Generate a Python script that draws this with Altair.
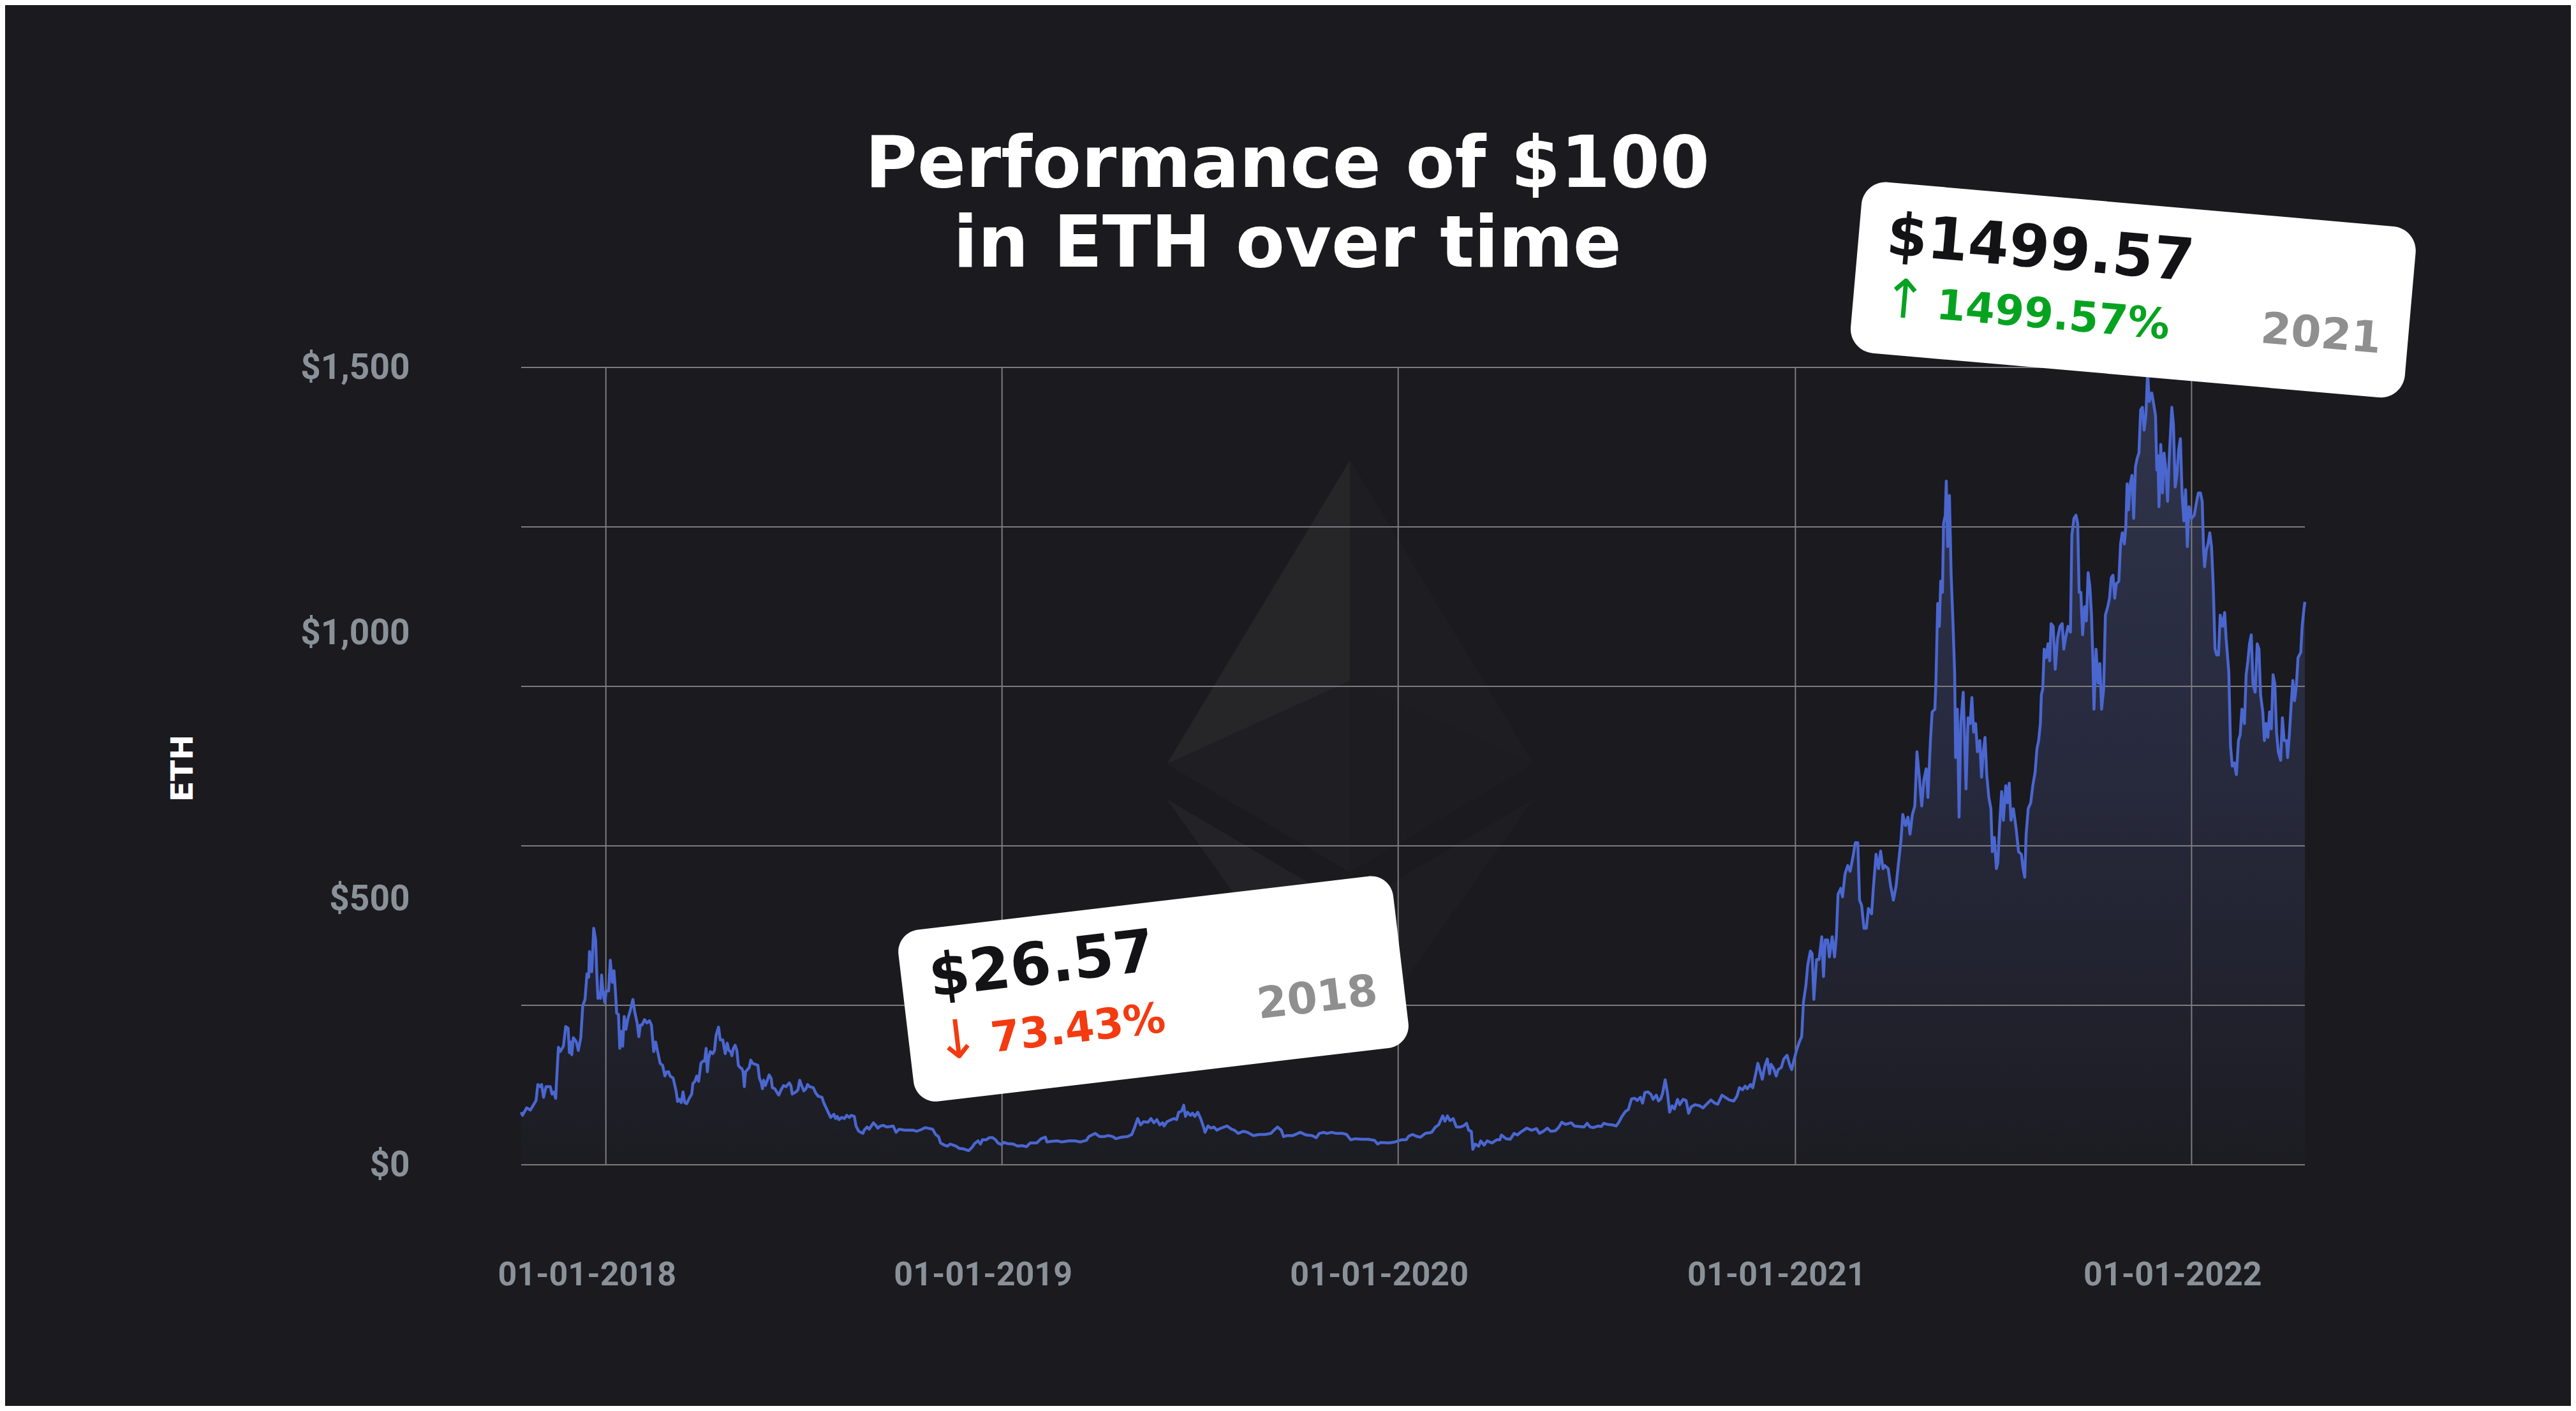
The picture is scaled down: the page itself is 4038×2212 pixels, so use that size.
import altair as alt
import pandas as pd

# ---------------------------------------------------------------- data
START_DATE = "2017-10-15"  # first day of the series

# (days since START_DATE, value in USD of $100 invested in ETH)
oct2017_to_sep2018 = [
    (0, 99), (1.2, 93), (5, 107), (8.5, 103), (12, 115), (13.7, 121), (15.3, 151), (17.6, 147),
    (18.8, 151), (20.6, 127), (22.9, 147), (26.8, 147), (28.4, 133), (30.2, 137), (31.8, 125),
    (32.5, 155), (34.3, 221), (35.9, 213), (38.9, 223), (41, 260), (43.2, 257), (44.4, 211),
    (45.7, 231), (46.6, 207), (48, 239), (49.6, 235), (50.8, 231), (52.6, 215), (54.9, 239),
    (56.7, 299), (58.8, 311), (60.6, 359), (62.2, 353), (62.9, 401), (65, 363), (66.8, 445),
    (68.6, 423), (69.5, 367), (70.7, 313), (72, 323), (73, 313), (74.1, 357), (75.5, 323),
    (77.1, 305), (78.2, 327), (80.5, 327), (82.1, 385), (83.9, 343), (85.5, 365), (86.9, 323),
    (88, 285), (89.6, 283), (90.8, 219), (92.4, 251), (93.5, 223), (94.9, 279), (96.5, 255),
    (98.3, 275), (100.6, 291), (102.9, 311), (104.5, 289), (106.8, 267), (108.4, 241),
    (109.8, 263), (111.4, 263), (113.6, 273), (115.9, 267), (118.2, 271), (120, 263),
    (122.1, 213), (123.9, 231), (125.5, 215), (128, 191), (130.3, 187), (132.4, 167),
    (134.2, 175), (135.8, 175), (137.2, 167), (140, 163), (142.7, 139), (144.1, 119),
    (145.7, 123), (147.5, 117), (149.1, 137), (150.7, 117), (152.5, 115), (154.8, 125),
    (157.1, 133), (158.2, 153), (160.1, 157), (161.7, 167), (163.5, 157), (165.6, 191),
    (167.4, 195), (169, 195), (170.4, 219), (171.5, 175), (172.6, 199), (174.2, 213),
    (176.5, 209), (178.1, 215), (179.5, 243), (181.8, 259), (183.4, 235), (185.7, 235),
    (188, 209), (189.8, 229), (191.4, 215), (193, 213), (194.1, 205), (195.5, 219),
    (197.1, 225), (198.7, 215), (200.1, 187), (201.7, 183), (203.3, 181), (204.4, 175),
    (205.6, 147), (206.7, 175), (208.5, 179), (210.1, 183), (211.5, 197), (213.1, 191),
    (215.8, 189), (218.1, 187), (219.5, 163), (221.1, 155), (222.3, 143), (223.4, 159),
    (225, 149), (226.8, 159), (228.4, 169), (230.3, 163), (231.4, 145), (233.7, 143),
    (236, 135), (237.3, 131), (239.4, 141), (241.7, 149), (244, 147), (247, 154), (248.5, 149),
    (249.7, 133), (253.1, 137), (255, 141), (256.6, 159), (258.4, 149), (260.4, 139),
    (262.3, 143), (263.9, 151), (265.7, 147), (269.1, 145), (271.4, 135), (273.7, 129),
    (277.1, 127), (278.7, 117), (281, 107), (282.8, 99), (285.1, 89), (288.1, 95), (289.7, 87),
    (291.3, 91), (292.7, 85), (295.4, 89), (297.7, 87), (300, 93), (302.3, 89), (304.1, 93),
    (306.9, 91), (308.5, 73), (311, 63), (314.9, 59), (316, 65), (318.7, 71), (320.6, 67),
    (324.5, 79), (326.3, 75), (328.6, 69), (330.9, 73), (333.8, 74), (336.6, 71), (340, 72),
]

sep2018_to_oct2019 = [
    (342.7, 73), (345.4, 61), (348.1, 67), (353.5, 65), (361.5, 65), (364.3, 63), (368.3, 66),
    (372.3, 70), (376.4, 68), (379.1, 67), (381.8, 57), (384.5, 53), (386.4, 41), (389.9, 37),
    (392.6, 35), (395.3, 39), (398, 37), (400.7, 35), (403.4, 31), (407.4, 30), (412.3, 26.6),
    (415.5, 33), (417.7, 40), (420.9, 45), (423.1, 39), (425, 47), (428.5, 47), (431.2, 51),
    (434.4, 51), (437.1, 47), (439.3, 41), (442.5, 38), (444.7, 42), (447.9, 40), (453.3, 39),
    (457.4, 35), (461.4, 36), (465.5, 34), (469, 41), (474.9, 41), (479, 49), (483, 52),
    (484.4, 43), (488.4, 44), (493.8, 45), (497.8, 43), (504.6, 45), (510, 45), (515.4, 43),
    (520.8, 46), (523, 53), (528.9, 59), (533, 53), (537, 53), (541, 55), (545.1, 53),
    (547.8, 49), (553.2, 52), (558.6, 53), (562.6, 57), (565.3, 71), (568, 87), (570.7, 75),
    (573.4, 81), (577.5, 80), (580.2, 87), (582.9, 79), (585.6, 85), (588.3, 75), (591, 79),
    (592.3, 73), (595, 81), (599, 85), (601.7, 87), (603.9, 85), (605.8, 99), (608.5, 101),
    (610.4, 112), (612, 91), (613.9, 99), (616.6, 93), (618.5, 97), (620.6, 91), (623.3, 99),
    (626, 87), (628.7, 71), (630.1, 61), (632.8, 73), (635.5, 69), (638.2, 71), (640.9, 65),
    (644.9, 69), (650.3, 73), (654.4, 67), (657.1, 65), (660.6, 59), (665.2, 63), (669.2, 61),
    (674.6, 55), (680, 57), (685.4, 57), (690.8, 59), (693.5, 65), (696.8, 71), (700.3, 65),
    (702.4, 53), (705.6, 55), (711.1, 55), (717.8, 61), (723.2, 56), (728.6, 55), (732.6, 51),
    (735.3, 59), (739.4, 61),
]

oct2019_to_jan2021 = [
    (742.3, 59), (746.7, 61), (751.1, 59), (757, 59), (760.5, 57), (764.3, 47), (768.6, 49),
    (774.5, 48), (780.3, 48), (786.2, 46), (789.1, 39), (792, 42), (799.3, 41), (805.2, 43),
    (811, 47), (815.4, 47), (817.8, 54), (821.3, 57), (825.7, 53), (828.6, 52), (833, 59),
    (838.8, 61), (842.3, 71), (845.2, 75), (849, 92), (851.1, 82), (853.4, 92), (855.8, 83),
    (858.7, 87), (861.6, 71), (865.1, 71), (868, 73), (871, 78), (873, 65), (875.4, 63),
    (876.8, 29), (878.9, 39), (882.1, 35), (884.1, 45), (887.1, 37), (890, 45), (894.4, 41),
    (898.7, 47), (901.7, 47), (903.1, 56), (907.5, 49), (911.3, 48), (914.8, 59), (917.8, 56),
    (921.3, 62), (926.5, 69), (930.9, 65), (935.3, 68), (938.2, 59), (941.7, 63), (945.5, 69),
    (948.5, 63), (952.8, 64), (955.8, 70), (958.7, 80), (962.2, 76), (967.5, 79), (970.4, 73),
    (974.8, 72), (979.2, 71), (982.1, 78), (985, 71), (988, 70), (992.3, 73), (995.2, 72),
    (997.3, 78), (1001, 76), (1005.5, 75), (1008.9, 73), (1011.3, 80), (1014.2, 91),
    (1017.2, 100), (1020.1, 104), (1023, 124), (1025.9, 125), (1028.3, 121), (1031.2, 127),
    (1033.2, 116), (1035.3, 136), (1038.2, 137), (1041.1, 132), (1042.9, 123), (1045.8, 131),
    (1047.9, 120), (1049.9, 124), (1051.7, 135), (1054, 160), (1056, 137), (1058.1, 99),
    (1060.4, 111), (1062.5, 105), (1065.4, 123), (1067.4, 113), (1070.4, 123), (1073.3, 121),
    (1075.6, 97), (1078, 109), (1081.5, 113), (1085.9, 111), (1088.8, 107), (1091.7, 113),
    (1096.1, 122), (1099.6, 116), (1102.5, 114), (1106.3, 131), (1109.3, 127), (1113.1, 122),
    (1117.2, 120), (1120.1, 129), (1122.4, 145), (1125.3, 141), (1127.7, 148), (1129.7, 143),
    (1132.6, 151), (1134.7, 145), (1137, 167), (1139.4, 191), (1141.4, 177), (1143.5, 161),
    (1145.8, 185), (1148.1, 199), (1150.2, 171), (1151.6, 189), (1154, 181), (1156.3, 167),
    (1158.1, 179), (1161, 183), (1163.3, 199), (1166.3, 206), (1168.6, 189), (1170.6, 179),
    (1172.7, 197), (1175, 215),
]

jan2021_to_apr2022 = [
    (1177.6, 231), (1179.8, 241), (1181.4, 306), (1183.7, 338), (1185.3, 375), (1187.8, 402),
    (1189.4, 397), (1191, 311), (1193.5, 386), (1195.8, 386), (1198.3, 429), (1199.9, 354),
    (1201.5, 423), (1203.7, 423), (1205.3, 391), (1207.9, 429), (1210.1, 391), (1211.7, 429),
    (1213.3, 509), (1215.8, 520), (1217.4, 504), (1219.7, 547), (1222.2, 563), (1224.4, 552),
    (1227, 579), (1229.2, 606), (1231.5, 606), (1233.1, 498), (1235, 488), (1237.2, 445),
    (1239.4, 445), (1241.3, 482), (1244.2, 472), (1245.8, 520), (1248.3, 584), (1250.6, 557),
    (1252.5, 590), (1254.7, 557), (1256.3, 563), (1259.5, 557), (1261.7, 525), (1264.3, 498),
    (1266.8, 525), (1269, 568), (1271.3, 611), (1272.9, 659), (1275.4, 638), (1277.7, 654),
    (1279.6, 622), (1281.8, 659), (1284, 675), (1286, 777), (1288.2, 729), (1290.4, 675),
    (1292.3, 723), (1294.5, 745), (1296.1, 691), (1298.4, 798), (1300, 852), (1302.5, 857),
    (1303.5, 911), (1305.1, 1056), (1306.6, 1013), (1307.9, 1098), (1309.5, 1077),
    (1310.5, 1206), (1312.1, 1222), (1313, 1286), (1314.3, 1163), (1315.9, 1259),
    (1317.5, 1109), (1319.1, 1023), (1320.7, 927), (1321.6, 766), (1323.2, 857), (1324.8, 654),
    (1326.4, 830), (1328.6, 889), (1330.2, 782), (1331.2, 707), (1333.1, 841), (1335, 830),
    (1336.6, 879), (1338.2, 814), (1340.1, 830), (1341.7, 777), (1343.9, 798), (1345.5, 729),
    (1347.1, 777), (1348.7, 804), (1350.3, 734), (1352.2, 691), (1354.1, 670), (1355.4, 589),
    (1357.3, 616), (1359.2, 557), (1360.5, 568), (1362.1, 638), (1364, 702), (1365.6, 648),
    (1367.8, 713), (1369.4, 681), (1371, 718), (1372.6, 648), (1374.8, 670), (1377.4, 632),
    (1379.6, 589), (1382.2, 584), (1383.8, 557), (1385.3, 541), (1386.6, 622), (1388.5, 670),
    (1390.8, 681), (1392.7, 713), (1394.9, 739), (1396.5, 782), (1398.1, 798), (1399.7, 830),
    (1400.6, 884), (1401.9, 895), (1403.2, 970), (1405.1, 954), (1406.7, 980), (1408.3, 948),
    (1409.6, 1018), (1411.5, 1013), (1413.4, 932), (1415.6, 991), (1417.8, 1013),
    (1419.8, 1018), (1421.3, 970), (1422.9, 991), (1425.2, 1013), (1427.4, 1002),
    (1428.7, 1184), (1430.6, 1216), (1432.5, 1222), (1434.1, 1206), (1435.4, 1077),
    (1437, 1077), (1438.6, 997), (1440.5, 1050), (1442.1, 1023), (1443.7, 1114),
    (1445.3, 1088), (1446.8, 1034), (1448.1, 948), (1449.1, 857), (1451, 970), (1452.9, 906),
    (1454.5, 943), (1456.1, 857), (1458, 895), (1459.6, 1034), (1461.8, 1050), (1463.4, 1066),
    (1465, 1104), (1466.6, 1109), (1468.2, 1066), (1469.7, 1093), (1472, 1098), (1473.6, 1168),
    (1475.2, 1189), (1477.1, 1168), (1478.4, 1200), (1479.6, 1281), (1480.9, 1232),
    (1482.5, 1281), (1484.1, 1297), (1485.7, 1216), (1487.3, 1313), (1488.9, 1329),
    (1490.5, 1339), (1492.1, 1420), (1493.7, 1425), (1495.3, 1382), (1496.9, 1409),
    (1498.5, 1492), (1500, 1436), (1502.3, 1452), (1504.2, 1430), (1505.8, 1409), (1507, 1307),
    (1508, 1334), (1509, 1238), (1510.6, 1355), (1512.2, 1264), (1513.7, 1339), (1515.3, 1307),
    (1516.9, 1248), (1518.5, 1334), (1520.8, 1425), (1522.3, 1393), (1523.9, 1275),
    (1525.5, 1297), (1527.1, 1345), (1528.7, 1366), (1530.3, 1259), (1531.9, 1211),
    (1533.5, 1270), (1535.1, 1163), (1536.7, 1238), (1538.9, 1216), (1541.5, 1222),
    (1543.7, 1248), (1545.3, 1264), (1547.2, 1264), (1548.8, 1248), (1550.1, 1157),
    (1551, 1125), (1552.6, 1157), (1554.2, 1168), (1555.8, 1189), (1557.4, 1163), (1559, 1088),
    (1560.6, 970), (1562.2, 959), (1563.8, 959), (1565.4, 1034), (1567.6, 1013), (1569.5, 1039),
    (1570.8, 991), (1573.3, 927), (1574.9, 788), (1576.5, 750), (1578.4, 756), (1580.3, 734),
    (1582.2, 798), (1583.8, 809), (1585.4, 857), (1587.7, 830), (1589.3, 922), (1590.9, 948),
    (1592.4, 980), (1594, 997), (1595.6, 905), (1597.6, 889), (1599.5, 980), (1601.1, 970),
    (1602.6, 884), (1604.6, 852), (1606.1, 798), (1607.7, 830), (1609.3, 804), (1610.9, 852),
    (1612.5, 820), (1614.1, 922), (1615.7, 905), (1617.3, 814), (1618.9, 777), (1621.1, 761),
    (1622.7, 841), (1624.3, 798), (1626.5, 798), (1627.5, 766), (1629.1, 809), (1630.7, 863),
    (1632.3, 911), (1633.9, 873), (1635.5, 900), (1637.1, 954), (1639.6, 964), (1640.9, 1013),
    (1642.5, 1045), (1643.4, 1059),
]

year_ticks = ["2018-01-01", "2019-01-01", "2020-01-01", "2021-01-01", "2022-01-01"]
y_label_values = [0, 500, 1000, 1500]
y_grid_values = [0, 300, 600, 900, 1200, 1500]

title_lines = ["Performance of $100", "in ETH over time"]
y_title = "ETH"

low_card = {"value": "$26.57", "arrow": "\u2193", "change": "73.43%", "year": "2018"}
high_card = {"value": "$1499.57", "arrow": "\u2191", "change": "1499.57%", "year": "2021"}

# ---------------------------------------------------------------- style / layout
BG = "#1a1a1f"
LINE = "#4a66cf"
GRID = "#7c7c80"
TICK_TEXT = "#8a9199"
RED = "#f23b10"
GREEN = "#07a320"
GREY = "#8f8f8f"
INK = "#131316"

W, H = 2796, 1250
PAD = {"left": 809, "top": 568, "right": 417, "bottom": 378}

# anchors of the two cards and of the watermark (in data coordinates)
LOW_CARD_AT = ("2019-05-20 12:00", 331)
HIGH_CARD_AT = ("2021-11-08 05:00", 1646)
LOGO_AT = ("2019-11-17 19:00", 764)


def rounded_rect_path(w, h, r):
    s = w / 2.0
    hw, hh, rr = 1.0, (h / 2.0) / s, r / s
    k = 0.5523 * rr
    f = lambda v: f"{v:.4f}"
    return " ".join([
        f"M{f(-hw + rr)},{f(-hh)}",
        f"L{f(hw - rr)},{f(-hh)}",
        f"C{f(hw - rr + k)},{f(-hh)} {f(hw)},{f(-hh + rr - k)} {f(hw)},{f(-hh + rr)}",
        f"L{f(hw)},{f(hh - rr)}",
        f"C{f(hw)},{f(hh - rr + k)} {f(hw - rr + k)},{f(hh)} {f(hw - rr)},{f(hh)}",
        f"L{f(-hw + rr)},{f(hh)}",
        f"C{f(-hw + rr - k)},{f(hh)} {f(-hw)},{f(hh - rr + k)} {f(-hw)},{f(hh - rr)}",
        f"L{f(-hw)},{f(-hh + rr)}",
        f"C{f(-hw)},{f(-hh + rr - k)} {f(-hw + rr - k)},{f(-hh)} {f(-hw + rr)},{f(-hh)}",
        "Z",
    ])


# Ethereum glyph facets (standard 256 x 417 artwork) with their shades
ETH_FACETS = [
    ([(128, 0), (0, 212.32), (128, 154.16)], "#262629"),
    ([(128, 0), (256, 212.32), (128, 154.16)], "#1e1e22"),
    ([(0, 212.32), (128, 154.16), (128, 287.96)], "#1f1f23"),
    ([(256, 212.32), (128, 154.16), (128, 287.96)], "#1d1d21"),
    ([(0, 236.59), (128, 312.19), (128, 416.91)], "#232327"),
    ([(256, 236.59), (128, 312.19), (128, 416.91)], "#1e1e22"),
]
LOGO_HEIGHT_PX = 937


def facet_path(pts):
    sc = 2.0 / 416.91
    return "M" + " L".join(f"{(x - 128) * sc:.4f},{(y - 208.455) * sc:.4f}" for x, y in pts) + " Z"


# ---------------------------------------------------------------- frames
points = oct2017_to_sep2018 + sep2018_to_oct2019 + oct2019_to_jan2021 + jan2021_to_apr2022
df = pd.DataFrame(points, columns=["day", "value"]).sort_values("day")
df["date"] = pd.Timestamp(START_DATE) + pd.to_timedelta(df["day"], unit="D")
df = df[["date", "value"]]

x_scale = alt.Scale(nice=False)
y_scale = alt.Scale(domain=[0, 1500], nice=False)

x_axis = alt.Axis(
    values=[alt.DateTime(year=int(t[:4]), month=1, date=1) for t in year_ticks],
    format="%m-%d-%Y", grid=False, domain=False, ticks=False, title="",
    labelPadding=147, labelOffset=-30, labelFont="Roboto", labelFontSize=52,
    labelFontWeight="bold", labelColor=TICK_TEXT, labelLimit=600,
)
y_axis = alt.Axis(
    values=y_label_values, format="$,.0f", grid=False, domain=False, ticks=False,
    labelPadding=175, labelFont="Roboto", labelFontSize=55, labelFontWeight="bold",
    labelColor=TICK_TEXT, labelLimit=600, title=y_title, titleFont="DejaVu Sans",
    titleFontSize=48, titleFontWeight="bold", titleColor="white", titleX=-530, titleY=628,
    titleAngle=270, titleAlign="center", titleBaseline="middle",
)


def xy(xfield="date", yfield="value"):
    # every layer shares the same scales and the same axis definitions
    return dict(
        x=alt.X(f"{xfield}:T", scale=x_scale, axis=x_axis),
        y=alt.Y(f"{yfield}:Q", scale=y_scale, axis=y_axis),
    )


area_fill = alt.Gradient(
    gradient="linear",
    stops=[
        alt.GradientStop(color="#30344b", offset=0),
        alt.GradientStop(color="#272a3d", offset=0.5),
        alt.GradientStop(color="#1c1c22", offset=1),
    ],
    x1=0, x2=0, y1=0, y2=1,
)

area = alt.Chart(df).mark_area(color=area_fill).encode(**xy())

line = alt.Chart(df).mark_line(color=LINE, strokeWidth=4.5, strokeJoin="round").encode(**xy())


def anchor_frame(at):
    return pd.DataFrame({"date": [pd.Timestamp(at[0])], "value": [at[1]]})


logo_layers = []
logo_df = anchor_frame(LOGO_AT)
for pts, shade in ETH_FACETS:
    logo_layers.append(
        alt.Chart(logo_df).mark_point(
            shape=facet_path(pts), size=LOGO_HEIGHT_PX ** 2, filled=True,
            color=shade, opacity=1, strokeWidth=0,
        ).encode(**xy())
    )

hgrid = alt.Chart(pd.DataFrame({"value": y_grid_values})).mark_rule(
    color=GRID, strokeWidth=2
).encode(y=alt.Y("value:Q", scale=y_scale, axis=y_axis))

vgrid = alt.Chart(pd.DataFrame({"date": pd.to_datetime(year_ticks)})).mark_rule(
    color=GRID, strokeWidth=2
).encode(x=alt.X("date:T", scale=x_scale, axis=x_axis))


def card(at, angle, w, h, r, info, change_color, offs):
    adf = anchor_frame(at)
    layers = [
        alt.Chart(adf).mark_point(
            shape=rounded_rect_path(w, h, r), size=w * w, filled=True, color="white",
            opacity=1, strokeWidth=0, angle=angle,
        ).encode(**xy())
    ]

    def txt(text, key, size, color, weight="bold", align="left"):
        dx, dy = offs[key]
        return alt.Chart(adf).mark_text(
            text=text, dx=dx, dy=dy, angle=angle, align=align, baseline="alphabetic",
            font="DejaVu Sans", fontSize=size, fontWeight=weight, color=color,
        ).encode(**xy())

    layers += [
        txt(info["value"], "value", 92, INK),
        txt(info["arrow"], "arrow", 84, change_color, weight="normal"),
        txt(info["change"], "change", 66, change_color),
        txt(info["year"], "year", 68, GREY, align="right"),
    ]
    return layers


low_layers = card(
    LOW_CARD_AT, 353.24, 781, 271, 35, low_card, RED,
    {"value": (-347, -29), "arrow": (-350, 72), "change": (-262, 69), "year": (348, 66)},
)
high_layers = card(
    HIGH_CARD_AT, 5.0, 872, 269, 38, high_card, GREEN,
    {"value": (-392, -22), "arrow": (-391, 75), "change": (-305, 72), "year": (394, 65)},
)

title = alt.Chart(pd.DataFrame({"t": ["\n".join(title_lines)]})).mark_text(
    font="DejaVu Sans", fontSize=112, fontWeight="bold", color="white", align="center",
    baseline="alphabetic", lineBreak="\n", lineHeight=125,
).encode(x=alt.value(1201), y=alt.value(-283), text="t:N")

chart = alt.layer(
    area, *logo_layers, hgrid, vgrid, line, *low_layers, *high_layers, title
).properties(
    width=W, height=H, padding=PAD, background=BG,
    autosize=alt.AutoSizeParams(type="none"),
).configure_view(strokeWidth=0)

chart.save("out.html", embed_options={"renderer": "svg", "actions": False})
